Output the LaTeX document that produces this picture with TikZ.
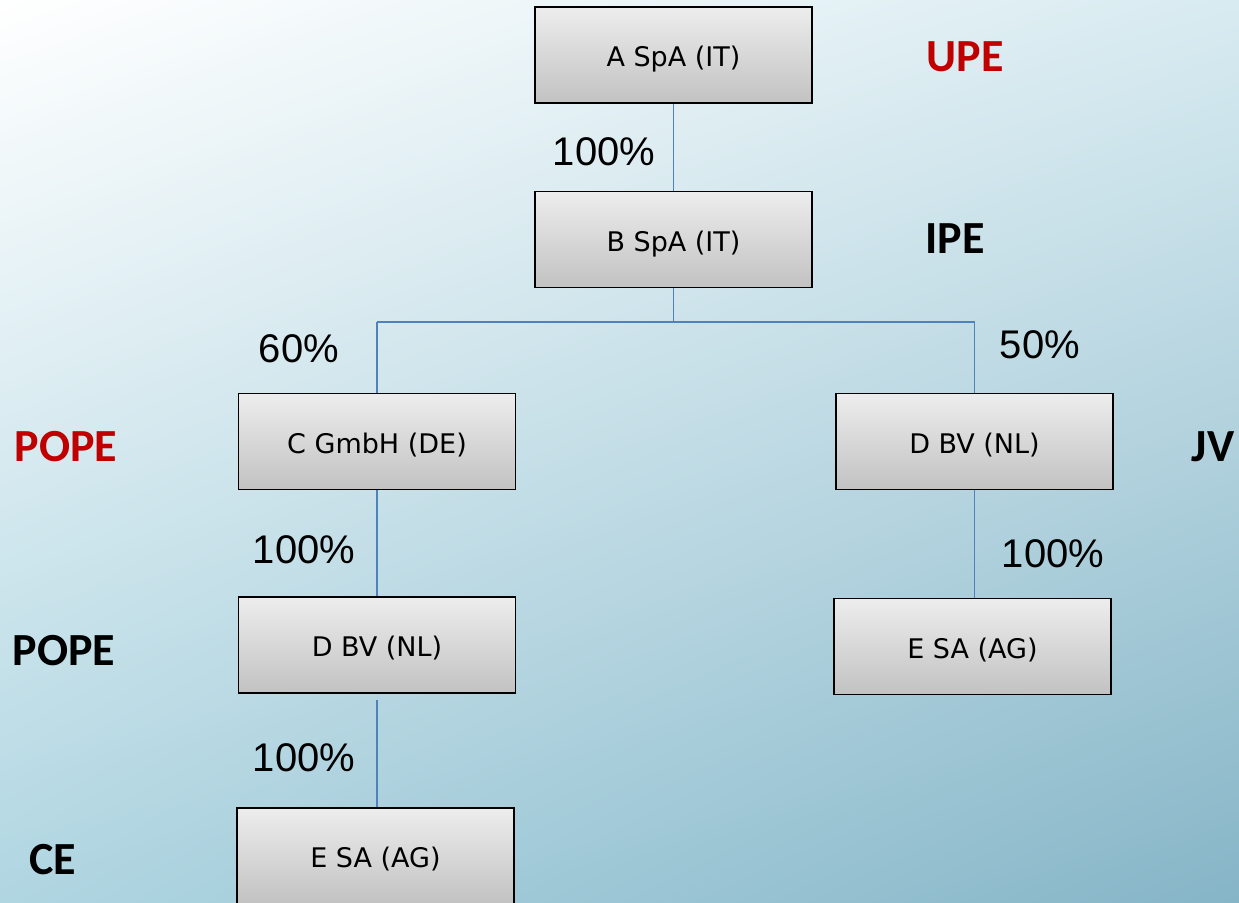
\documentclass[tikz,border=0pt]{standalone}
\usepackage{fontspec}
\usetikzlibrary{shadings}
\setmainfont{DejaVu Sans}
\newfontfamily\pctfont{Liberation Sans}
\newfontfamily\lblfont{Carlito}
\definecolor{linkblue}{HTML}{4F81BD}
\definecolor{upered}{HTML}{C00000}
\definecolor{bgUL}{HTML}{FFFFFF}
\definecolor{bgUR}{HTML}{D8EBF1}
\definecolor{bgLL}{HTML}{B0D6E2}
\definecolor{bgLR}{HTML}{86B5C7}
\definecolor{boxtop}{HTML}{EDEDED}
\definecolor{boxbot}{HTML}{C2C2C2}
\begin{document}
\begin{tikzpicture}[x=1pt,y=-1pt,
  entity/.style={draw=black, line width=1.8pt, minimum width=277pt, minimum height=96pt,
    inner sep=0pt, top color=boxtop, bottom color=boxbot,
    text depth=0pt, text height=23.6pt,
    font=\fontsize{27}{31}\selectfont},
  link/.style={draw=linkblue, line width=1.4pt},
  pct/.style={font=\pctfont\fontsize{40}{44}\selectfont, inner sep=0pt},
  role/.style={font=\lblfont\bfseries\fontsize{46}{50}\selectfont, inner sep=0pt}]
\useasboundingbox (0,0) rectangle (1239,902);
\shade[upper left=bgUL, upper right=bgUR, lower left=bgLL, lower right=bgLR] (0,0) rectangle (1239,902);

\node[entity] (A) at (673.5,55) {A SpA (IT)};
\node[entity] (B) at (673.5,239.5) {B SpA (IT)};
\node[entity] (C) at (377,441.5) {C GmbH (DE)};
\node[entity] (D2) at (974.5,441.5) {D BV (NL)};
\node[entity] (D1) at (377,645) {D BV (NL)};
\node[entity] (E2) at (972.5,646.5) {E SA (AG)};
\node[entity] (E1) at (375.5,856) {E SA (AG)};

\coordinate (jB) at (673.5,322);
\coordinate (jC) at (377,322);
\coordinate (jD) at (974.5,322);

\draw[link] (A.south) -- (B.north);
\draw[link] (B.south) -- (jB);
\draw[link] (jC) -- (jD);
\draw[link] (jC) -- (C.north);
\draw[link] (jD) -- (D2.north);
\draw[link] (C.south) -- (D1.north);
\draw[link] (D2.south) -- (E2.north -| D2.south);
\draw[link] (D1.south) ++(0,6) coordinate (d1s) -- (E1.north -| d1s);

\node[pct] (p1) at (604,152) {100\%};
\node[pct] (p2) at (299,349) {60\%};
\node[pct] (p3) at (1040,345) {50\%};
\node[pct] (p4) at (304,550) {100\%};
\node[pct] (p5) at (1053,554) {100\%};
\node[pct] (p6) at (304,758) {100\%};

\node[role, text=upered] (l1) at (965,57) {UPE};
\node[role] (l2) at (955,239) {IPE};
\node[role, text=upered] (l3) at (66,447) {POPE};
\node[role] (l4) at (64,651) {POPE};
\node[role] (l5) at (1213,447) {JV};
\node[role] (l6) at (53,860) {CE};
\end{tikzpicture}
\end{document}
